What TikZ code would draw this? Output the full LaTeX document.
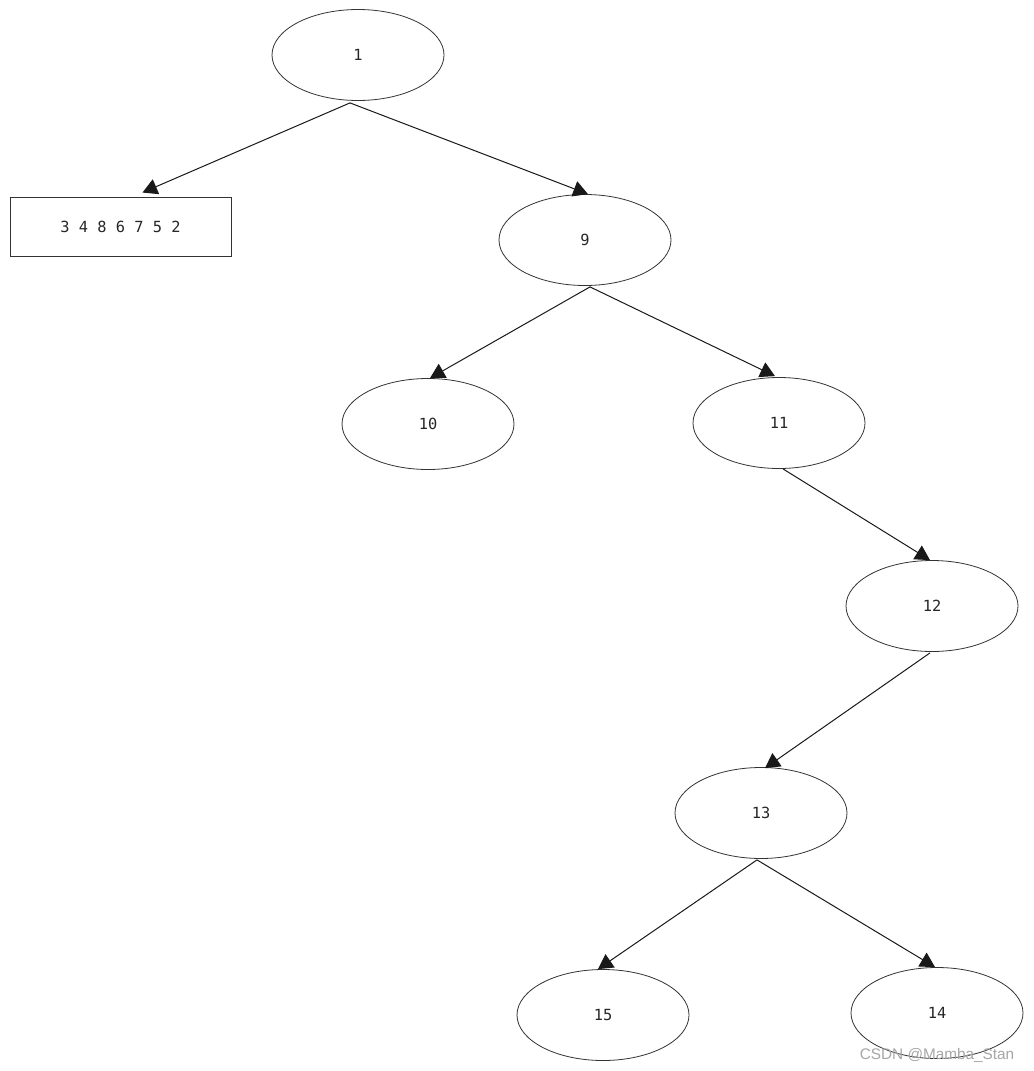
\documentclass[tikz,border=0pt]{standalone}
\usepackage{fontspec}
\setmonofont{DejaVu Sans Mono}
\setsansfont{Liberation Sans}
\usetikzlibrary{shapes.geometric,arrows.meta,calc}
\begin{document}
\begin{tikzpicture}[x=0.75pt,y=-0.75pt,
  ell/.style={draw=black!80,line width=0.6pt,ellipse,minimum width=172*0.75pt,minimum height=91*0.75pt,inner sep=0pt,font=\ttfamily\fontsize{11.5}{13}\selectfont,text=black!85},
  boxn/.style={draw=black!80,line width=0.7pt,rectangle,minimum width=221*0.75pt,minimum height=59*0.75pt,inner sep=0pt,font=\ttfamily\fontsize{11.5}{13}\selectfont,text=black!85},
  link/.style={draw=black!90,line width=0.75pt,-{Triangle[length=11pt,width=12pt]}}]
\useasboundingbox (0,0) rectangle (1033,1071);
\fill[white] (0,0) rectangle (1033,1071);
\node[ell] (n1) at (358,55) {1};
\node[boxn] (b) at (120.5,226.5) {3 4 8 6 7 5 2};
\node[ell] (n9) at (585,240) {9};
\node[ell] (n10) at (428,424) {10};
\node[ell] (n11) at (779,423) {11};
\node[ell] (n12) at (932,606) {12};
\node[ell] (n13) at (761,813) {13};
\node[ell] (n15) at (603,1015) {15};
\node[ell] (n14) at (937,1013) {14};
\draw[link] ($(n1.south)+(-8,2)$) -- ($(b.north)+(22,-4)$);
\draw[link] ($(n1.south)+(-8,2)$) -- ($(n9.north)+(3,0)$);
\draw[link] ($(n9.south)+(5,1)$) -- ($(n10.north)+(2,0)$);
\draw[link] ($(n9.south)+(5,1)$) -- ($(n11.north)+(-4,-1)$);
\draw[link] ($(n11.south)+(4,0)$) -- ($(n12.north)+(-2,0)$);
\draw[link] ($(n12.south)+(-2,1)$) -- ($(n13.north)+(4,1)$);
\draw[link] ($(n13.south)+(-4,1)$) -- ($(n15.north)+(-5,0)$);
\draw[link] ($(n13.south)+(-4,1)$) -- ($(n14.north)+(-2,0)$);
\node[font=\sffamily\fontsize{11.5}{13}\selectfont,text=black!35,anchor=east] (wm) at (1019,1055) {CSDN @Mamba\_Stan};
\end{tikzpicture}
\end{document}
